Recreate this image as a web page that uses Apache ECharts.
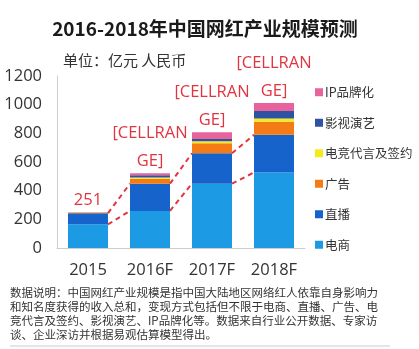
<!DOCTYPE html>
<html><head><meta charset="utf-8">
<script src="https://cdn.jsdelivr.net/npm/echarts@6/dist/echarts.min.js"></script>
<style>html,body{margin:0;padding:0;background:#fff}#c{width:419px;height:349px}</style>
</head><body><div id="c"></div>
<script>
const categories = ['2015', '2016F', '2017F', '2018F'];
const ecommerce = [165, 259, 449, 527];
const live = [78, 190, 212, 263];
const ads = [4, 35, 69, 90];
const esports = [2, 8, 14, 23];
const film = [1, 15, 17, 53];
const ipBrand = [1, 15, 46, 55];
const topLabels = ['251', '[CELLRAN\nGE]', '[CELLRAN\nGE]', '[CELLRAN\nGE]'];
const seriesNames = ['电商', '直播', '广告', '电竞代言及签约', '影视演艺', 'IP品牌化'];
const yTicks = [0, 200, 400, 600, 800, 1000, 1200];
const note = '数据说明：中国网红产业规模是指中国大陆地区网络红人依靠自身影响力\n和知名度获得的收入总和，变现方式包括但不限于电商、直播、广告、电\n竞代言及签约、影视演艺、IP品牌化等。数据来自行业公开数据、专家访\n谈、企业深访并根据易观估算模型得出。';

const colors = ['#1c9be4', '#1663cc', '#f47b16', '#f3ec1c', '#2f53a3', '#e8629b'];
const values = [ecommerce, live, ads, esports, film, ipBrand];
const cjk = '"Noto Sans CJK SC", "Noto Sans", sans-serif';
const BAR_W = 40;

// connector lines between consecutive bars
const level1 = ecommerce;
const level2 = ecommerce.map((v, i) => v + live[i]);
const connData = [];
for (let i = 0; i < categories.length - 1; i++) {
  connData.push([i, level1[i], level1[i + 1]]);
  connData.push([i, level2[i], level2[i + 1]]);
}

const series = seriesNames.map((n, k) => ({
  name: n, type: 'bar', stack: 'total', barWidth: BAR_W,
  data: values[k], itemStyle: { color: colors[k] },
  label: k === 5 ? {
    show: true, position: 'top', distance: -2,
    formatter: p => topLabels[p.dataIndex],
    color: '#e2343f', fontSize: 16.5, lineHeight: 28, fontFamily: '"Open Sans", sans-serif'
  } : { show: false }
}));
series.push({
  type: 'custom', silent: true, z: 5,
  data: connData,
  renderItem: function (params, api) {
    const i = api.value(0);
    const p1 = api.coord([i, api.value(1)]);
    const p2 = api.coord([i + 1, api.value(2)]);
    return {
      type: 'line',
      shape: { x1: p1[0] + BAR_W / 2, y1: p1[1], x2: p2[0] - BAR_W / 2, y2: p2[1] },
      style: { stroke: '#e2343f', lineWidth: 2, lineDash: [5, 4] }
    };
  },
  encode: { x: 0, y: [1, 2] }
});

const chart = echarts.init(document.getElementById('c'), null, { renderer: 'canvas' });
chart.setOption({
  animation: false,
  backgroundColor: '#fff',
  title: {
    text: '2016-2018年中国网红产业规模预测',
    left: 200, top: 14, textAlign: 'center',
    textStyle: { fontSize: 19, fontWeight: 'bold', color: '#1a1a1a', fontFamily: cjk }
  },
  graphic: [
    { type: 'text', left: 63, top: 53, style: { text: '单位：亿元 人民币', fontSize: 15, fill: '#333', fontFamily: cjk } },
    { type: 'text', left: 10, top: 285, style: { text: note, fontSize: 11.5, lineHeight: 14.3, fill: '#333', fontFamily: cjk } },
    { type: 'line', shape: { x1: 10, y1: 346, x2: 390, y2: 346 }, style: { stroke: '#ccc', lineWidth: 1 } }
  ],
  legend: {
    orient: 'vertical', left: 315, top: 86, padding: 0,
    data: seriesNames.slice().reverse(),
    icon: 'rect', itemWidth: 8, itemHeight: 8, itemGap: 18, itemStyle: { borderWidth: 0 },
    textStyle: { fontSize: 12.5, color: '#333', fontFamily: cjk, padding: [0, 0, 0, -3] }
  },
  grid: { left: 57, right: 114, top: 76, bottom: 101 },
  xAxis: {
    type: 'category', data: categories,
    axisLine: { lineStyle: { color: '#ccc' } }, axisTick: { show: false },
    axisLabel: { fontSize: 16.5, color: '#333', margin: 14, fontFamily: '"Open Sans", sans-serif' }
  },
  yAxis: {
    type: 'value', min: yTicks[0], max: yTicks[yTicks.length - 1], interval: yTicks[1] - yTicks[0],
    axisLine: { show: true, lineStyle: { color: '#ccc' } }, axisTick: { show: false },
    splitLine: { show: false },
    axisLabel: { fontSize: 16.5, color: '#333', margin: 15, fontFamily: '"Open Sans", sans-serif', formatter: v => String(v) }
  },
  series: series
});
</script></body></html>
